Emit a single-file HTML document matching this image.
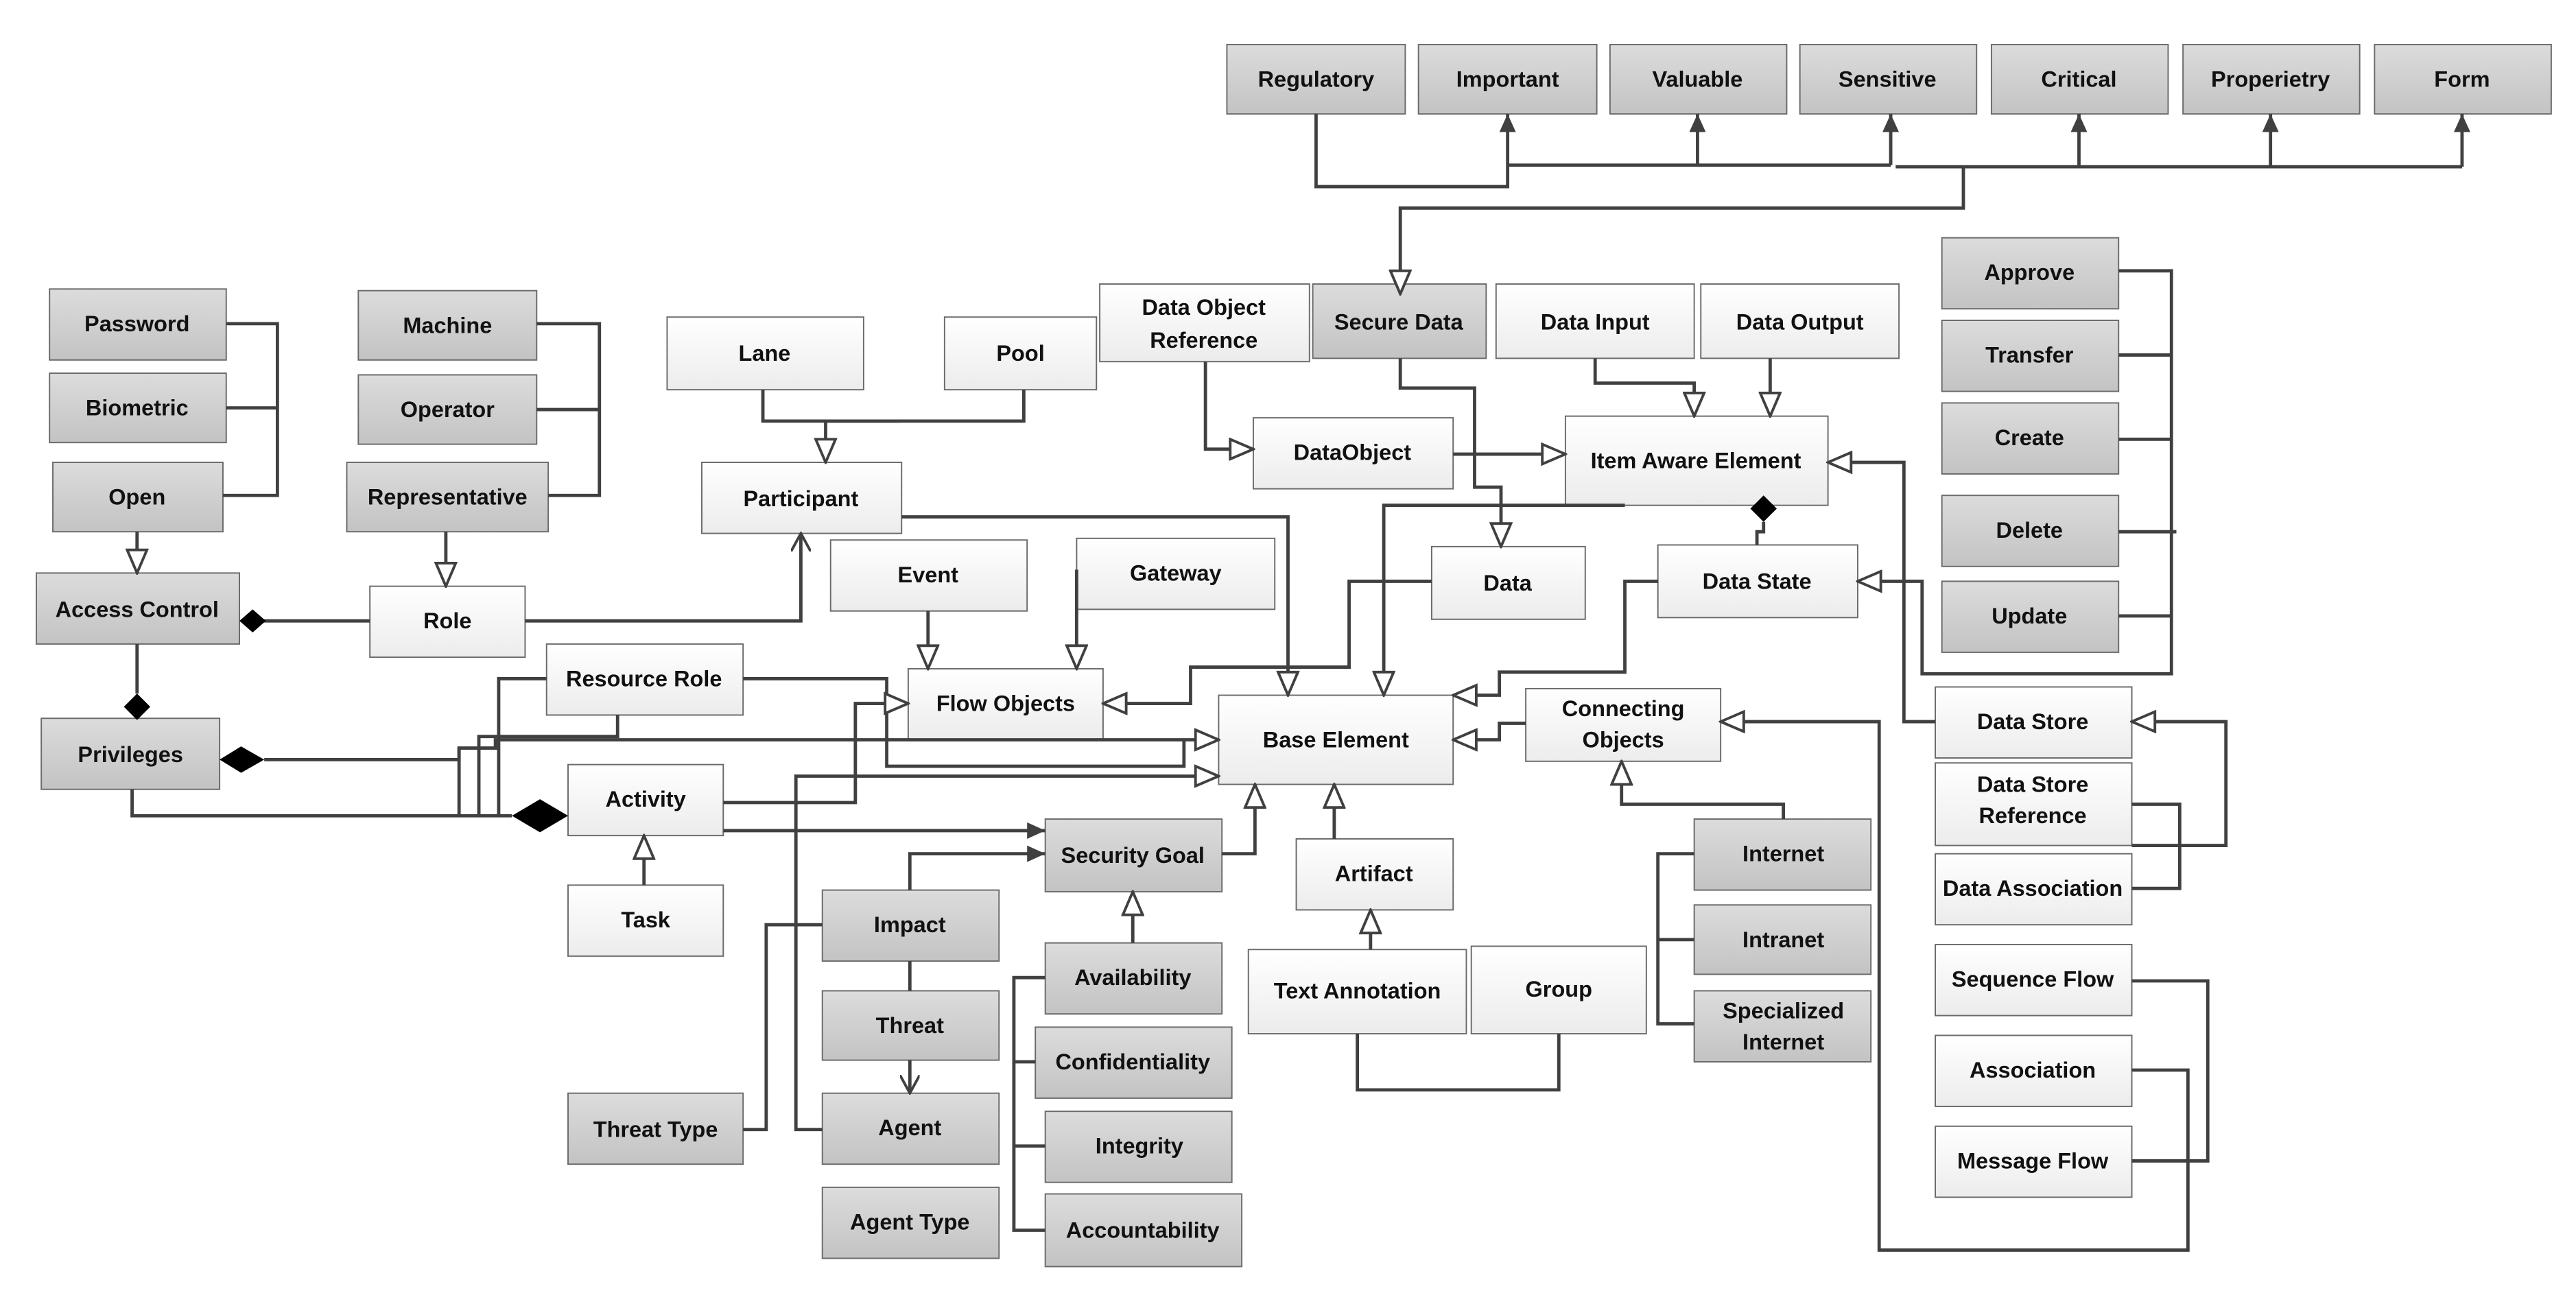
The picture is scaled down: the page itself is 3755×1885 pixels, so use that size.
<!DOCTYPE html>
<html><head><meta charset="utf-8"><style>
html,body{margin:0;padding:0;background:#fff;}
svg{display:block;}
text{font-family:"Liberation Sans",sans-serif;font-size:13.5px;font-weight:bold;fill:#111;text-anchor:middle;dominant-baseline:central;}
.l{fill:none;stroke:#404040;stroke-width:2;}
</style></head><body>
<svg width="3755" height="1885" viewBox="0 0 1560 783" preserveAspectRatio="none" xmlns="http://www.w3.org/2000/svg">
<defs>
<linearGradient id="g" x1="0" y1="0" x2="0" y2="1"><stop offset="0" stop-color="#dcdcdc"/><stop offset="1" stop-color="#c3c3c3"/></linearGradient>
<linearGradient id="w" x1="0" y1="0" x2="0" y2="1"><stop offset="0" stop-color="#ffffff"/><stop offset="1" stop-color="#ececec"/></linearGradient>
<marker id="t" markerUnits="userSpaceOnUse" markerWidth="16" markerHeight="14" refX="15" refY="7" orient="auto"><path d="M1,1 L15,7 L1,13 Z" fill="#fff" stroke="#404040" stroke-width="1.6"/></marker>
<marker id="f" markerUnits="userSpaceOnUse" markerWidth="12" markerHeight="10" refX="11" refY="5" orient="auto"><path d="M0,0 L11,5 L0,10 Z" fill="#404040"/></marker>
<marker id="v" markerUnits="userSpaceOnUse" markerWidth="12" markerHeight="12" refX="11" refY="6" orient="auto"><path d="M0,0 L11,6 L0,12" fill="none" stroke="#404040" stroke-width="1.6"/></marker>
</defs>
<g stroke="#6a6a6a" stroke-width="0.8">
<!-- gray boxes -->
<g fill="url(#g)">
<rect x="743" y="27" width="108" height="42"/><rect x="859" y="27" width="108" height="42"/><rect x="975" y="27" width="107" height="42"/><rect x="1090" y="27" width="107" height="42"/><rect x="1206" y="27" width="107" height="42"/><rect x="1322" y="27" width="107" height="42"/><rect x="1438" y="27" width="107" height="42"/>
<rect x="30" y="175" width="107" height="43"/><rect x="30" y="226" width="107" height="42"/><rect x="32" y="280" width="103" height="42"/><rect x="22" y="347" width="123" height="43"/><rect x="25" y="435" width="108" height="43"/>
<rect x="217" y="176" width="108" height="42"/><rect x="217" y="227" width="108" height="42"/><rect x="210" y="280" width="122" height="42"/>
<rect x="795" y="172" width="105" height="45"/>
<rect x="633" y="496" width="107" height="44"/><rect x="498" y="539" width="107" height="43"/><rect x="498" y="600" width="107" height="42"/><rect x="498" y="662" width="107" height="43"/><rect x="498" y="719" width="107" height="43"/><rect x="344" y="662" width="106" height="43"/>
<rect x="633" y="571" width="107" height="43"/><rect x="627" y="622" width="119" height="43"/><rect x="633" y="673" width="113" height="43"/><rect x="633" y="723" width="119" height="44"/>
<rect x="1026" y="496" width="107" height="43"/><rect x="1026" y="548" width="107" height="42"/><rect x="1026" y="600" width="107" height="43"/>
<rect x="1176" y="144" width="107" height="43"/><rect x="1176" y="194" width="107" height="43"/><rect x="1176" y="244" width="107" height="43"/><rect x="1176" y="300" width="107" height="43"/><rect x="1176" y="352" width="107" height="43"/>
</g>
<g fill="url(#w)">
<rect x="224" y="355" width="94" height="43"/><rect x="425" y="280" width="121" height="43"/><rect x="404" y="192" width="119" height="44"/><rect x="572" y="192" width="92" height="44"/>
<rect x="331" y="390" width="119" height="43"/><rect x="344" y="463" width="94" height="43"/><rect x="344" y="536" width="94" height="43"/>
<rect x="550" y="405" width="118" height="43"/><rect x="503" y="327" width="119" height="43"/><rect x="652" y="326" width="120" height="43"/>
<rect x="738" y="421" width="142" height="54"/><rect x="666" y="172" width="127" height="47"/><rect x="759" y="253" width="121" height="43"/>
<rect x="906" y="172" width="120" height="45"/><rect x="1030" y="172" width="120" height="45"/><rect x="948" y="252" width="159" height="54"/>
<rect x="867" y="331" width="93" height="44"/><rect x="1004" y="330" width="121" height="44"/><rect x="924" y="417" width="118" height="44"/>
<rect x="785" y="508" width="95" height="43"/><rect x="756" y="575" width="132" height="51"/><rect x="891" y="573" width="106" height="53"/>
<rect x="1172" y="416" width="119" height="43"/><rect x="1172" y="462" width="119" height="50"/><rect x="1172" y="517" width="119" height="43"/>
<rect x="1172" y="572" width="119" height="43"/><rect x="1172" y="627" width="119" height="43"/><rect x="1172" y="682" width="119" height="43"/>
</g>
</g>
<!-- connectors -->
<g class="l">
<path d="M797,69 V113 H913 V69" marker-end="url(#f)"/>
<path d="M913,100 H1145"/><path d="M1028,100 V69" marker-end="url(#f)"/><path d="M1145,100 V69" marker-end="url(#f)"/>
<path d="M1148,101 H1491"/><path d="M1259,101 V69" marker-end="url(#f)"/><path d="M1375,101 V69" marker-end="url(#f)"/><path d="M1491,101 V69" marker-end="url(#f)"/>
<path d="M1189,101 V126 H848 V178" marker-end="url(#t)"/>
<path d="M137,196 H168 V300 H135 M137,247 H168"/>
<path d="M325,196 H363 V300 H332 M325,248 H363"/>
<path d="M83,322 V347" marker-end="url(#t)"/><path d="M270,322 V355" marker-end="url(#t)"/>
<path d="M224,376 H160"/>
<path d="M318,376 H485 V323" marker-end="url(#v)"/>
<path d="M462,236 V255 H620 V236"/><path d="M545,255 H500 V280" marker-end="url(#t)"/>
<path d="M83,390 V420"/>
<path d="M160,460 H278 V453 H300 V448 H738" marker-end="url(#t)"/>
<path d="M80,478 V494 H310"/>
<path d="M278,494 V453"/><path d="M302,494 V411 H331"/><path d="M374,433 V446 H290 V494"/>
<path d="M450,411 H537 V464 H717 V448"/>
<path d="M438,486 H518 V426 H550" marker-end="url(#t)"/>
<path d="M498,684 H482 V470 H738" marker-end="url(#t)"/>
<path d="M438,503 H633" marker-end="url(#f)"/>
<path d="M562,370 V405" marker-end="url(#t)"/><path d="M652,345 V405" marker-end="url(#t)"/>
<path d="M546,313 H780 V421" marker-end="url(#t)"/>
<path d="M780,404 H721 V426 H668" marker-end="url(#t)"/>
<path d="M984,306 H838 V421" marker-end="url(#t)"/>
<path d="M867,352 H817 V404 H780"/>
<path d="M1004,352 H984 V407 H908 V421 H880" marker-end="url(#t)"/>
<path d="M924,438 H908 V448 H880" marker-end="url(#t)"/>
<path d="M848,217 V235 H893 V295 H909 V331" marker-end="url(#t)"/>
<path d="M730,219 V272 H759" marker-end="url(#t)"/>
<path d="M880,275 H948" marker-end="url(#t)"/>
<path d="M966,217 V232 H1026 V252" marker-end="url(#t)"/><path d="M1072,217 V252" marker-end="url(#t)"/>
<path d="M1068,316 V322 H1064 V330"/>
<path d="M1283,164 H1315 V408 H1164 V352 H1125" marker-end="url(#t)"/>
<path d="M1283,215 H1315 M1283,266 H1315 M1283,322 H1318 M1283,373 H1315"/>
<path d="M1172,437 H1153 V280 H1107" marker-end="url(#t)"/>
<path d="M1291,512 H1348 V437 H1291" marker-end="url(#t)"/><path d="M1291,487 H1320 V538 H1291"/>
<path d="M1291,594 H1337 V703 H1291"/><path d="M1291,648 H1325 V757 H1138 V437 H1042" marker-end="url(#t)"/>
<path d="M808,508 V475" marker-end="url(#t)"/><path d="M830,575 V551" marker-end="url(#t)"/>
<path d="M822,626 V660 H944 V626"/>
<path d="M1080,496 V487 H982 V461" marker-end="url(#t)"/>
<path d="M1026,517 H1004 V620 H1026 M1004,569 H1026"/>
<path d="M740,517 H760 V475" marker-end="url(#t)"/>
<path d="M686,571 V540" marker-end="url(#t)"/>
<path d="M633,592 H614 V745 H633 M614,643 H627 M614,694 H633"/>
<path d="M551,539 V517 H633" marker-end="url(#f)"/>
<path d="M498,560 H464 V684 H450"/>
<path d="M551,582 V600"/><path d="M551,642 V662" marker-end="url(#v)"/>
<path d="M390,536 V506" marker-end="url(#t)"/>
</g>
<!-- diamonds -->
<g fill="#000">
<polygon points="145,376 153,369 161,376 153,383"/>
<polygon points="83,420 91,428 83,436 75,428"/>
<polygon points="133,460 146,452 160,460 146,468"/>
<polygon points="310,494 327,484 344,494 327,504"/>
<polygon points="1068,300 1076,308 1068,316 1060,308"/>
</g>
<!-- labels -->
<text x="797" y="48">Regulatory</text><text x="913" y="48">Important</text><text x="1028" y="48">Valuable</text><text x="1143" y="48">Sensitive</text><text x="1259" y="48">Critical</text><text x="1375" y="48">Properietry</text><text x="1491" y="48">Form</text>
<text x="83" y="196">Password</text><text x="83" y="247">Biometric</text><text x="83" y="301">Open</text><text x="83" y="369">Access Control</text><text x="79" y="457">Privileges</text>
<text x="271" y="197">Machine</text><text x="271" y="248">Operator</text><text x="271" y="301">Representative</text><text x="271" y="376">Role</text>
<text x="463" y="214">Lane</text><text x="618" y="214">Pool</text><text x="485" y="302">Participant</text>
<text x="390" y="411">Resource Role</text><text x="391" y="484">Activity</text><text x="391" y="557">Task</text>
<text x="562" y="348">Event</text><text x="712" y="347">Gateway</text><text x="609" y="426">Flow Objects</text>
<text x="809" y="448">Base Element</text>
<text x="729" y="186">Data Object</text><text x="729" y="206">Reference</text>
<text x="847" y="195">Secure Data</text><text x="966" y="195">Data Input</text><text x="1090" y="195">Data Output</text>
<text x="819" y="274">DataObject</text><text x="1027" y="279">Item Aware Element</text>
<text x="913" y="353">Data</text><text x="1064" y="352">Data State</text>
<text x="983" y="429">Connecting</text><text x="983" y="448">Objects</text>
<text x="832" y="529">Artifact</text><text x="822" y="600">Text Annotation</text><text x="944" y="599">Group</text>
<text x="686" y="518">Security Goal</text><text x="551" y="560">Impact</text><text x="551" y="621">Threat</text><text x="551" y="683">Agent</text><text x="551" y="740">Agent Type</text><text x="397" y="684">Threat Type</text>
<text x="686" y="592">Availability</text><text x="686" y="643">Confidentiality</text><text x="690" y="694">Integrity</text><text x="692" y="745">Accountability</text>
<text x="1080" y="517">Internet</text><text x="1080" y="569">Intranet</text><text x="1080" y="612">Specialized</text><text x="1080" y="631">Internet</text>
<text x="1229" y="165">Approve</text><text x="1229" y="215">Transfer</text><text x="1229" y="265">Create</text><text x="1229" y="321">Delete</text><text x="1229" y="373">Update</text>
<text x="1231" y="437">Data Store</text><text x="1231" y="475">Data Store</text><text x="1231" y="494">Reference</text><text x="1231" y="538">Data Association</text>
<text x="1231" y="593">Sequence Flow</text><text x="1231" y="648">Association</text><text x="1231" y="703">Message Flow</text>
</svg>
</body></html>
